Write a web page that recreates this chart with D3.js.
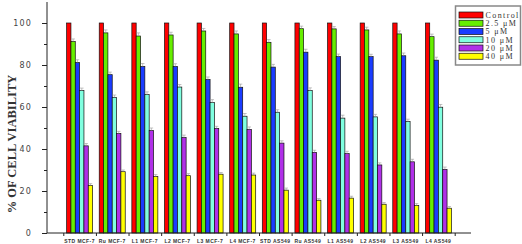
<!DOCTYPE html>
<html>
<head>
<meta charset="utf-8">
<script src="https://cdn.jsdelivr.net/npm/d3@7"></script>
<style>
  html, body { margin: 0; padding: 0; background: #fff; }
  svg { display: block; }
</style>
</head>
<body>
<div id="chart"></div>
<script>
// ── DATA ──────────────────────────────────────────────────────────────────
const groups = ['STD MCF-7', 'Ru MCF-7', 'L1 MCF-7', 'L2 MCF-7', 'L3 MCF-7', 'L4 MCF-7',
                'STD AS549', 'Ru AS549', 'L1 AS549', 'L2 AS549', 'L3 AS549', 'L4 AS549'];
const seriesNames = ['Control', '2.5 \u03bcM', '5 \u03bcM', '10 \u03bcM', '20 \u03bcM', '40 \u03bcM'];

const control = [100, 100, 100, 100, 100, 100, 100, 100, 100, 100, 100, 100];
const c2_5    = [91.2, 95.3, 93.8, 94.3, 96.2, 94.8, 90.8, 97.3, 97.2, 96.7, 94.8, 93.5];
const c5      = [81.2, 75.4, 79.3, 79.3, 73.1, 69.4, 79.0, 86.1, 84.0, 84.0, 84.4, 82.3];
const c10     = [67.8, 64.6, 65.9, 69.5, 62.1, 55.6, 57.5, 67.8, 54.7, 55.3, 53.1, 59.9];
const c20     = [41.5, 47.4, 48.8, 45.5, 49.8, 49.3, 42.8, 38.4, 37.8, 32.4, 33.9, 30.3];
const c40     = [22.6, 29.2, 26.9, 27.3, 28.0, 27.6, 20.4, 15.6, 16.6, 13.7, 13.1, 11.8];

// approximate error (SD) per series
const errCtrl = [0, 0, 0, 0, 0, 0, 0, 0, 0, 0, 0, 0];
const err2_5  = [1.2, 1.4, 1.5, 1.3, 1.2, 1.4, 1.3, 1.2, 1.1, 1.3, 1.4, 1.2];
const err5    = [1.3, 1.2, 1.4, 1.3, 1.2, 1.5, 1.3, 1.4, 1.2, 1.1, 1.3, 1.4];
const err10   = [1.2, 1.1, 1.3, 1.2, 1.4, 1.3, 1.2, 1.3, 1.4, 1.2, 1.1, 1.3];
const err20   = [1.1, 1.0, 1.2, 1.1, 1.0, 1.2, 1.1, 1.0, 1.1, 1.0, 1.2, 1.1];
const err40   = [0.9, 0.8, 0.9, 1.0, 0.8, 0.9, 1.0, 0.8, 0.9, 0.8, 0.9, 0.8];

const series = [control, c2_5, c5, c10, c20, c40];
const errors = [errCtrl, err2_5, err5, err10, err20, err40];
const colors = ['#ff0000', '#66ee00', '#1a3cff', '#80ffe0', '#b030e8', '#ffff00'];

const yTicks = [0, 20, 40, 60, 80, 100];

// ── LAYOUT ────────────────────────────────────────────────────────────────
const W = 522, H = 244;
const svg = d3.select('#chart').append('svg').attr('width', W).attr('height', H);

const x = d3.scaleLinear().domain([0, groups.length + 1]).range([47, 471]);
const y = d3.scaleLinear().domain([0, 110]).range([233, 2]);
const inner = d3.scaleBand().domain(d3.range(series.length)).range([-13, 13]).padding(0);

// bars
series.forEach((vals, s) => {
  const g = svg.append('g');
  vals.forEach((v, i) => {
    const bx = x(i + 1) + inner(s);
    g.append('rect')
      .attr('x', bx).attr('y', y(v))
      .attr('width', inner.bandwidth()).attr('height', y(0) - y(v))
      .attr('fill', colors[s]).attr('stroke', '#111').attr('stroke-width', 0.7);
    const e = errors[s][i];
    if (e > 0) {
      const cx = bx + inner.bandwidth() / 2;
      g.append('line').attr('x1', cx).attr('x2', cx)
        .attr('y1', y(v)).attr('y2', y(v + e))
        .attr('stroke', '#999').attr('stroke-width', 0.6);
      g.append('line').attr('x1', cx - 1.8).attr('x2', cx + 1.8)
        .attr('y1', y(v + e)).attr('y2', y(v + e))
        .attr('stroke', '#999').attr('stroke-width', 0.6);
    }
  });
});

// y axis
const yAxis = d3.axisLeft(y).tickValues(d3.range(0, 101, 10)).tickSize(5).tickPadding(10)
  .tickFormat(d => yTicks.includes(d) ? d : '');
const gy = svg.append('g').attr('transform', 'translate(47,0)').call(yAxis);
gy.select('.domain').attr('stroke', '#222').attr('d', `M0,${y(110)}V${y(0)}`);
gy.selectAll('.tick line').attr('stroke', '#222')
  .attr('x2', d => yTicks.includes(d) ? -5 : -3);
gy.selectAll('.tick text').attr('fill', '#444')
  .style('font-family', 'DejaVu Sans, sans-serif').style('font-size', '8px')
  .style('letter-spacing', '1.2px');

// x axis
const xAxis = d3.axisBottom(x).tickValues(d3.range(0.5, groups.length + 1, 1))
  .tickSize(3).tickFormat('');
const gx = svg.append('g').attr('transform', `translate(0,${y(0)})`).call(xAxis);
gx.select('.domain').attr('stroke', '#222').attr('d', `M${x(0)},0H${x(groups.length + 1)}`);
gx.selectAll('.tick line').attr('stroke', '#222');

svg.append('g').selectAll('text').data(groups).enter().append('text')
  .attr('x', (d, i) => x(i + 1)).attr('y', 243)
  .attr('text-anchor', 'middle')
  .attr('fill', '#333')
  .style('font-family', 'Liberation Sans, Arial, sans-serif').style('font-size', '5px')
  .style('font-weight', 'bold').style('letter-spacing', '0.45px')
  .text(d => d);

// y title
svg.append('text')
  .attr('transform', 'translate(16,144) rotate(-90)')
  .attr('text-anchor', 'middle')
  .attr('fill', '#333')
  .style('font-family', 'Liberation Serif, Times New Roman, serif')
  .style('font-size', '12.5px').style('font-weight', 'bold')
  .text('% OF CELL VIABILITY');

// legend
const lg = svg.append('g').attr('transform', 'translate(455.5,6)');
lg.append('rect').attr('width', 65).attr('height', 59)
  .attr('fill', '#fff').attr('stroke', '#888').attr('stroke-width', 1.5);
seriesNames.forEach((name, s) => {
  const ry = 9 + s * 8.25;
  lg.append('rect').attr('x', 3.5).attr('y', ry - 3).attr('width', 24).attr('height', 6)
    .attr('fill', colors[s]).attr('stroke', '#111').attr('stroke-width', 0.7);
  lg.append('text').attr('x', 30).attr('y', ry + 2.8)
    .attr('fill', '#333')
    .style('font-family', 'Liberation Serif, Times New Roman, serif')
    .style('font-size', '8px').style('letter-spacing', '1.4px')
    .text(name);
});
</script>
</body>
</html>
